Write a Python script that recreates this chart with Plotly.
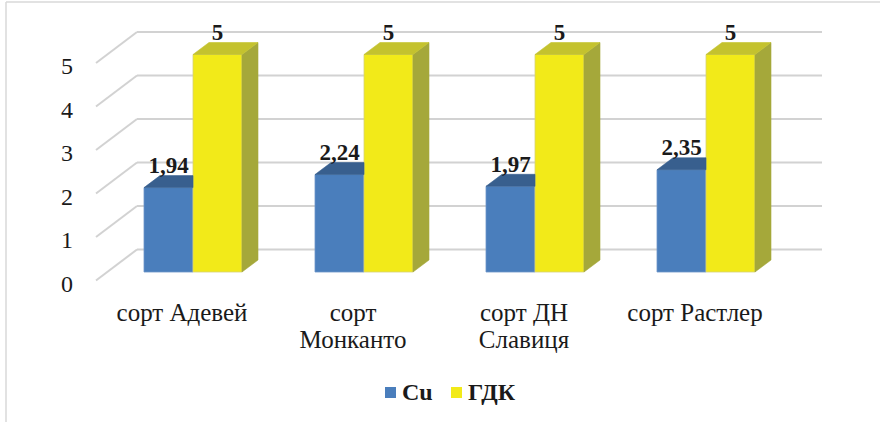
import plotly.graph_objects as go

# ---- data ----
categories = ["сорт Адевей", "сорт\nМонканто", "сорт ДН\nСлавиця", "сорт Растлер"]
cu = [1.94, 2.24, 1.97, 2.35]
gdk = [5, 5, 5, 5]
y_ticks = [0, 1, 2, 3, 4, 5]
series_names = ["Cu", "ГДК"]

cat_line1 = [c.split("\n")[0] for c in categories]
cat_line2 = [c.split("\n")[1] if "\n" in c else "" for c in categories]

# ---- layout constants (pixels) ----
W_FIG, H_FIG = 880, 422
PX_Y = 43.5          # px per value unit
STEP = 171.0         # px per category
X0 = 182.0           # px of first category centre on front floor edge
L, R = 90, 828       # plot area left/right px
T = 0
Y_FLOOR = 280.5      # px of value 0 on front floor edge
B = 292              # plot area bottom px

def ux(px):
    return (px - X0) / STEP

xr = [ux(L), ux(R)]
yr = [(Y_FLOOR - B) / PX_Y, (Y_FLOOR - T) / PX_Y]

FRONT_DX, FRONT_DY = 11 / STEP, 8.5 / PX_Y   # bar front face depth offset
BAR_DX, BAR_DY = 16 / STEP, 12 / PX_Y        # bar depth
WALL_DX, WALL_DY = 41 / STEP, 31 / PX_Y      # back wall offset
BW = 49 / STEP                               # bar width
X_FLOOR_LEFT = ux(96)
X_WALL_RIGHT = ux(822)

FONT = "Liberation Serif"
BLUE, BLUE_TOP = "#4A7EBC", "#385F8E"
YEL, YEL_TOP, YEL_SIDE = "#F2EA19", "#C4C22E", "#A5A83A"
GRID = "#D2D2D2"
TXT = "#1A1A1A"
CAT_SIZE = 25

idx = list(range(len(categories)))
fig = go.Figure()

# ---- front faces (bars) ----
fig.add_trace(go.Bar(x=idx, y=cu, base=FRONT_DY, width=BW, offset=FRONT_DX - BW,
                     name=series_names[0], marker=dict(color=BLUE, line=dict(color="#6C96C8", width=0.8)),
                     hoverinfo="skip", showlegend=False))
fig.add_trace(go.Bar(x=idx, y=gdk, base=FRONT_DY, width=BW, offset=FRONT_DX,
                     name=series_names[1], marker=dict(color=YEL, line=dict(color="#D6D27A", width=0.8)),
                     hoverinfo="skip", showlegend=False))

# ---- top / side faces ----
def poly_trace(xs, ys, color):
    return go.Scatter(x=xs, y=ys, mode="lines", fill="toself", fillcolor=color,
                      line=dict(width=0.6, color=color), showlegend=False, hoverinfo="skip")

bx, by = [], []
for i, v in zip(idx, cu):
    xl, xrr = i + FRONT_DX - BW, i + FRONT_DX
    top = FRONT_DY + v
    bx += [xl, xrr, xrr, xl + BAR_DX, xl, None]
    by += [top, top, top + BAR_DY, top + BAR_DY, top, None]
fig.add_trace(poly_trace(bx, by, BLUE_TOP))

tx, ty, sx, sy = [], [], [], []
for i, v in zip(idx, gdk):
    xl, xrr = i + FRONT_DX, i + FRONT_DX + BW
    top = FRONT_DY + v
    tx += [xl, xrr, xrr + BAR_DX, xl + BAR_DX, xl, None]
    ty += [top, top, top + BAR_DY, top + BAR_DY, top, None]
    sx += [xrr, xrr, xrr + BAR_DX, xrr + BAR_DX, xrr, None]
    sy += [FRONT_DY, top, top + BAR_DY, FRONT_DY + BAR_DY, FRONT_DY, None]
fig.add_trace(poly_trace(sx, sy, YEL_SIDE))
fig.add_trace(poly_trace(tx, ty, YEL_TOP))

# ---- data labels (on overlaying x2 axis, same range) ----
def fmt(v):
    return str(int(v)) if float(v).is_integer() else f"{v:.2f}".replace(".", ",")

LBL_DY = BAR_DY - 3 / PX_Y
fig.add_trace(go.Scatter(
    x=[i + FRONT_DX - BW / 2 for i in idx], y=[FRONT_DY + v + LBL_DY for v in cu], xaxis="x2",
    mode="text", text=["<b>" + fmt(v) + "</b>" for v in cu], textposition="top center",
    textfont=dict(family=FONT, size=23, color=TXT),
    showlegend=False, hoverinfo="skip"))
fig.add_trace(go.Scatter(
    x=[i + FRONT_DX + BW / 2 for i in idx], y=[FRONT_DY + v + LBL_DY for v in gdk], xaxis="x2",
    mode="text", text=["<b>" + fmt(v) + "</b>" for v in gdk], textposition="top center",
    textfont=dict(family=FONT, size=23, color=TXT),
    showlegend=False, hoverinfo="skip"))

# ---- 3D grid (back wall + left diagonals) ----
shapes = []
for v in y_ticks:
    shapes.append(dict(type="line", xref="x", yref="y", layer="below",
                       x0=X_FLOOR_LEFT, y0=v, x1=X_FLOOR_LEFT + WALL_DX, y1=v + WALL_DY,
                       line=dict(color=GRID, width=2)))
    shapes.append(dict(type="line", xref="x", yref="y", layer="below",
                       x0=X_FLOOR_LEFT + WALL_DX, y0=v + WALL_DY, x1=X_WALL_RIGHT, y1=v + WALL_DY,
                       line=dict(color=GRID, width=2)))

# chart border (paper coords)
pw = R - L
ph = B - T
def px2paper_x(px):
    return (px - L) / pw
def px2paper_y(py):
    return (B - py) / ph
shapes.append(dict(type="line", xref="paper", yref="paper",
                   x0=px2paper_x(6), y0=px2paper_y(2), x1=px2paper_x(880), y1=px2paper_y(2),
                   line=dict(color="#D9D9D9", width=1.5)))
shapes.append(dict(type="line", xref="paper", yref="paper",
                   x0=px2paper_x(6), y0=px2paper_y(2), x1=px2paper_x(6), y1=px2paper_y(422),
                   line=dict(color="#D9D9D9", width=1.5)))

# ---- legend (manual, to match the tight swatch/text spacing) ----
annotations = []
legend_items = [(series_names[0], BLUE, 385), (series_names[1], YEL, 451)]
for name, col, x_sw in legend_items:
    shapes.append(dict(type="rect", xref="paper", yref="paper",
                       x0=px2paper_x(x_sw), x1=px2paper_x(x_sw + 11),
                       y0=px2paper_y(398), y1=px2paper_y(387),
                       fillcolor=col, line=dict(width=0)))
    annotations.append(dict(xref="paper", yref="paper", x=px2paper_x(x_sw + 15),
                            y=px2paper_y(392), xanchor="left", yanchor="middle",
                            text="<b>" + name + "</b>", showarrow=False,
                            font=dict(family=FONT, size=24, color=TXT)))

axis_common = dict(showgrid=False, zeroline=False, showline=False, ticks="", fixedrange=True)
fig.update_layout(
    width=W_FIG, height=H_FIG,
    margin=dict(l=L, r=W_FIG - R, t=T, b=H_FIG - B, pad=0),
    paper_bgcolor="white", plot_bgcolor="white",
    barmode="overlay",
    shapes=shapes,
    annotations=annotations,
    font=dict(family=FONT, color=TXT),
    xaxis=dict(range=xr, tickmode="array", tickvals=idx, ticktext=cat_line1,
               ticklabelstandoff=3, tickfont=dict(family=FONT, size=CAT_SIZE, color=TXT),
               **axis_common),
    xaxis2=dict(range=xr, overlaying="x", anchor="y", side="bottom",
                tickmode="array", tickvals=idx, ticktext=cat_line2,
                ticklabelstandoff=30, tickfont=dict(family=FONT, size=CAT_SIZE, color=TXT),
                **axis_common),
    yaxis=dict(range=yr, tickmode="array", tickvals=y_ticks, ticktext=[str(t) for t in y_ticks],
               ticklabelstandoff=16, ticklabelshift=3,
               tickfont=dict(family=FONT, size=24, color=TXT),
               **axis_common),
    showlegend=False,
)

fig.write_html("out.html")
